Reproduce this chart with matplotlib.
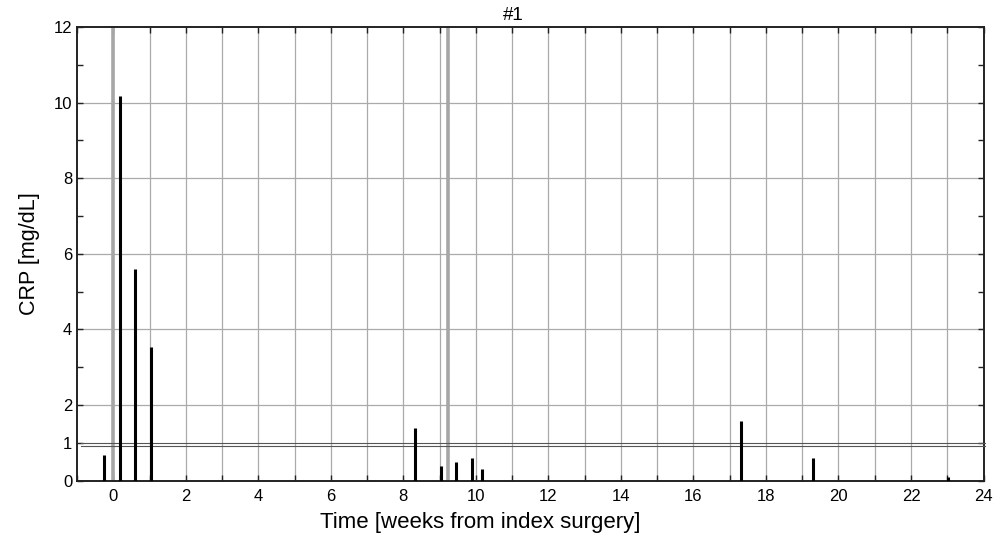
import matplotlib
matplotlib.use("Agg")
import matplotlib.pyplot as plt

plt.rcParams['font.family'] = ['Liberation Sans', 'DejaVu Sans']

# CRP measurements (weeks from index surgery, mg/dL)
weeks = [-0.26, 0.18, 0.61, 1.05, 8.31, 9.03, 9.46, 9.88, 10.18, 17.31, 19.30, 23.01]
crp = [0.68, 10.18, 5.6, 3.53, 1.39, 0.40, 0.50, 0.60, 0.30, 1.59, 0.59, 0.10]

# surgeries
surgery_weeks = [0.0, 9.22]

# reference threshold band
ref_low, ref_high = 0.93, 1.0

x_ticks = list(range(0, 25, 2))
y_ticks = [0, 1, 2, 4, 6, 8, 10, 12]
y_grid = [2, 4, 6, 8, 10]

fig = plt.figure(figsize=(10.03, 5.40), dpi=100)
ax = fig.add_axes([0.0768, 0.1098, 0.9038, 0.8402])

ax.set_xlim(-1, 24)
ax.set_ylim(0, 12)

# grid
for w in range(0, 24):
    ax.axvline(w, color='#aaaaaa', lw=0.9, zorder=1)
for g in y_grid:
    ax.axhline(g, color='#aaaaaa', lw=0.9, zorder=1)

for s in surgery_weeks:
    ax.axvline(s, color='#a6a6a6', lw=2.6, zorder=2)

for r in (ref_low, ref_high):
    ax.plot([-0.9, 24.05], [r, r], color='#555555', lw=0.8, clip_on=False, zorder=3)

ax.vlines(weeks, 0, crp, colors='black', lw=2.2, zorder=4)

ax.set_xticks(x_ticks)
ax.set_xticks(range(-1, 25), minor=True)
ax.set_yticks(y_ticks)
ax.set_yticks([3, 5, 7, 9, 11], minor=True)
ax.tick_params(which='both', direction='in', top=True, right=True,
               length=4, width=1, labelsize=12, color='#222222')
ax.tick_params(axis='x', pad=6)

for sp in ax.spines.values():
    sp.set_linewidth(1.4)
    sp.set_color('#222222')

ax.set_title('#1', fontsize=13.5, x=0.4815, pad=5)
ax.set_xlabel('Time [weeks from index surgery]', fontsize=16, x=0.445, labelpad=6)
ax.set_ylabel('CRP [mg/dL]', fontsize=15.5, labelpad=10)

fig.savefig('out.png', dpi=100)
